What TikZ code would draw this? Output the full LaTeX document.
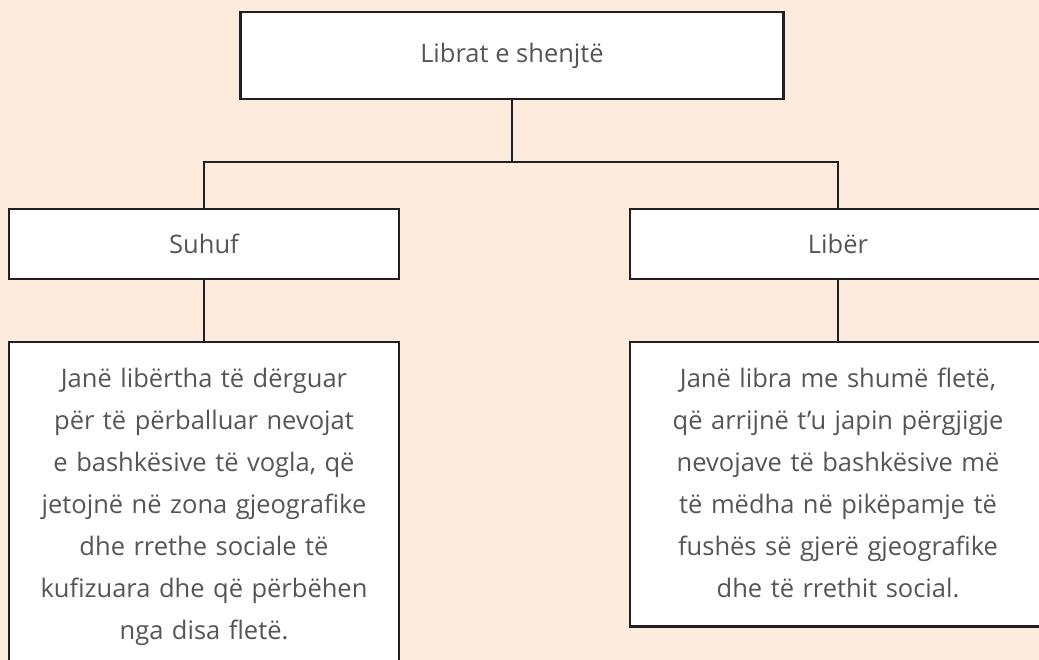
\documentclass[tikz,border=0pt]{standalone}
\usepackage{fontspec}
\setmainfont{Open Sans}
\definecolor{bgpeach}{HTML}{FDEBDE}
\definecolor{txtgray}{HTML}{545557}
\definecolor{edge}{HTML}{231F20}
\tikzset{
  box/.style={draw=edge, line width=2.5pt, fill=white, text=txtgray, inner sep=0pt,
    font=\fontsize{25.5}{42}\selectfont},
  desc/.style={draw=edge, line width=2.5pt, fill=white, text=txtgray, align=center,
    inner xsep=4pt, inner ysep=16pt, anchor=north, font=\fontsize{25.5}{42}\selectfont},
  conn/.style={draw=edge, line width=2.2pt}
}
\begin{document}
\begin{tikzpicture}[x=1pt,y=-1pt]
\fill[bgpeach] (0,0) rectangle (1039,660);
\useasboundingbox (0,0) rectangle (1039,660);
\clip (0,0) rectangle (1039,660);
\node[box, minimum width=543pt, minimum height=87pt] (top) at (512,55.5) {Librat e shenjtë};
\node[box, minimum width=390pt, minimum height=70pt] (suhuf) at (204,244) {Suhuf};
\node[box, minimum width=416pt, minimum height=70pt] (liber) at (838,244) {Libër};
\node[desc, minimum width=390pt, text width=382pt] (dl) at (204,341) {\strut Janë libërtha të dërguar\\ \strut për të përballuar nevojat\\ \strut e bashkësive të vogla, që\\ \strut jetojnë në zona gjeografike\\ \strut dhe rrethe sociale të\\ \strut kufizuara dhe që përbëhen\\ \strut nga disa fletë.};
\node[desc, minimum width=416pt, text width=408pt] (dr) at (838,341) {\strut Janë libra me shumë fletë,\\ \strut që arrijnë t’u japin përgjigje\\ \strut nevojave të bashkësive më\\ \strut të mëdha në pikëpamje të\\ \strut fushës së gjerë gjeografike\\ \strut dhe të rrethit social.};
\coordinate (mid) at (512,162);
\draw[conn] (top.south) -- (mid);
\draw[conn] (mid) -| (suhuf.north);
\draw[conn] (mid) -| (liber.north);
\draw[conn] (suhuf.south) -- (dl.north);
\draw[conn] (liber.south) -- (dr.north);
\end{tikzpicture}
\end{document}
